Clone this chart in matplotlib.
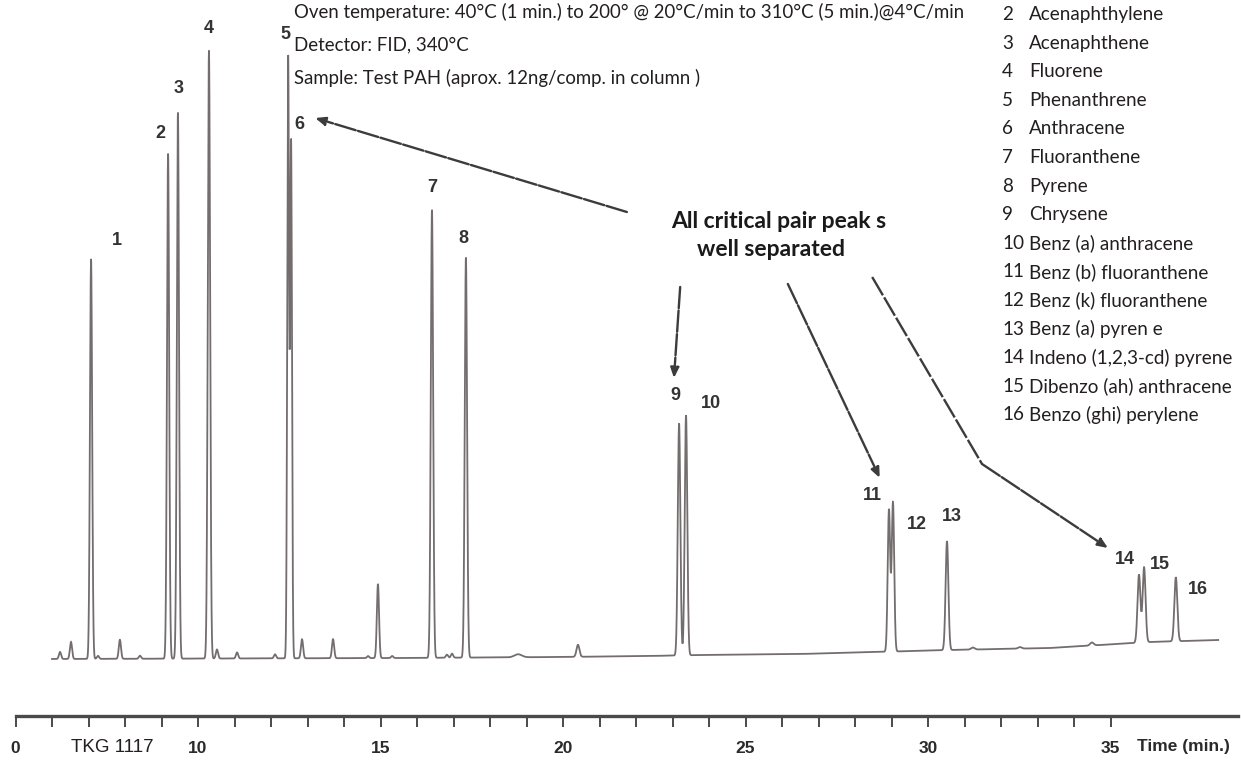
import numpy as np
import matplotlib
matplotlib.use("Agg")
import matplotlib.pyplot as plt

# ---------------- data ----------------
# Numbered PAH peaks: retention time (min), height above baseline, peak width (min)
peak_ids = list(range(1, 17))
peak_times = [7.07, 9.18, 9.45, 10.30, 12.47, 12.55, 16.41, 17.34,
              23.18, 23.37, 28.93, 29.04, 30.52, 35.78, 35.92, 36.79]
peak_heights = [400, 505, 546, 608, 600, 516, 448, 400,
                232, 240, 142, 149, 109, 68, 75, 64]
peak_widths = [0.030, 0.030, 0.030, 0.032, 0.025, 0.025, 0.032, 0.032,
               0.035, 0.035, 0.034, 0.034, 0.038, 0.040, 0.040, 0.040]

# Small unlabelled peaks
minor_times = [6.22, 6.52, 7.26, 7.86, 8.41, 10.52, 11.07, 12.11, 12.85, 13.70,
               14.66, 14.93, 15.32, 16.82, 16.96, 18.77, 20.41, 31.23, 32.52, 34.49]
minor_heights = [7, 17, 3, 19, 3, 9, 6, 4, 19, 19,
                 2, 74, 2, 3, 4, 3, 12, 2, 1.5, 3]
minor_widths = [0.03, 0.03, 0.03, 0.03, 0.03, 0.03, 0.03, 0.03, 0.03, 0.03,
                0.03, 0.03, 0.03, 0.03, 0.03, 0.10, 0.04, 0.05, 0.05, 0.05]

# Baseline drift (min, signal)
drift_times = [6.0, 15.53, 19.92, 22.38, 23.75, 26.49, 30.60, 33.34, 34.71, 36.08, 37.95]
drift_levels = [0, 1, 2, 3, 4, 5, 9, 11, 14, 17, 19]

run_start, run_end = 6.0, 37.95

# Time axis ticks (first tick printed as "0")
tick_minutes = list(range(5, 36))
tick_labels = {5: "0", 10: "10", 15: "15", 20: "20", 25: "25", 30: "30", 35: "35"}

compound_names = [
    "Acenaphthylene", "Acenaphthene", "Fluorene", "Phenanthrene", "Anthracene",
    "Fluoranthene", "Pyrene", "Chrysene", "Benz (a) anthracene",
    "Benz (b) fluoranthene", "Benz (k) fluoranthene", "Benz (a) pyren e",
    "Indeno (1,2,3-cd) pyrene", "Dibenzo (ah) anthracene", "Benzo (ghi) perylene",
]
compound_ids = list(range(2, 17))

conditions = [
    "Oven temperature: 40\u00b0C (1 min.) to 200\u00b0 @ 20\u00b0C/min to 310\u00b0C (5 min.)@4\u00b0C/min",
    "Detector: FID, 340\u00b0C",
    "Sample: Test PAH (aprox. 12ng/comp. in column )",
]

# ---------------- signal ----------------
t = np.arange(run_start, run_end, 0.001)
signal = np.interp(t, drift_times, drift_levels).astype(float)
for tr, h, w in zip(peak_times + minor_times, peak_heights + minor_heights,
                    peak_widths + minor_widths):
    signal += h * np.exp(-0.5 * ((t - tr) / w) ** 2)

# ---------------- figure ----------------
W, H, DPI = 1241, 761, 100
fig = plt.figure(figsize=(W / DPI, H / DPI), dpi=DPI)
ax = fig.add_axes([0, 0, 1, 1])
ax.set_xlim(4.5753, 38.575)
ax.set_ylim(-102, 659)

ax.plot(t, signal, color="#736d6e", lw=1.3, solid_joinstyle="miter")

# time axis drawn as a floating bottom spine
for s in ("left", "right", "top"):
    ax.spines[s].set_visible(False)
ax.spines["bottom"].set_position(("data", -57))
ax.spines["bottom"].set_bounds(5, 38.49)
ax.spines["bottom"].set_linewidth(2.4)
ax.spines["bottom"].set_color("#4a4a4a")
ax.set_yticks([])
ax.set_xticks(tick_minutes)
ax.set_xticklabels([tick_labels.get(m, "") for m in tick_minutes])
ax.tick_params(axis="x", direction="out", length=8, width=1.4, color="#4a4a4a",
               pad=10, labelsize=12.5, labelcolor="#2a2a2a")
for lab in ax.get_xticklabels():
    lab.set_fontfamily("Liberation Sans")
    lab.set_fontweight("bold")

ax.text(35.73, -88, "Time (min.)", fontfamily="Liberation Sans", fontweight="bold",
        fontsize=12.5, color="#2a2a2a", ha="left", va="center")
ax.text(6.52, -89, "TKG 1117", fontfamily="Liberation Sans", fontsize=13.5,
        color="#231f20", ha="left", va="center")

# peak numbers
label_offsets = [(26, 18), (-8, 20), (1, 24), (0, 22), (-3, 24), (8, 18), (0, 22), (-3, 19),
                 (-4, 28), (25, 12), (-17, 14), (24, -22), (5, 25), (-14, 15), (16, 3), (22, -12)]
base_at_peak = np.interp(peak_times, drift_times, drift_levels)
for pid, tr, h, b, (dx, dy) in zip(peak_ids, peak_times, peak_heights, base_at_peak, label_offsets):
    ax.annotate(str(pid), xy=(tr, h + b), xytext=(dx, dy), textcoords="offset pixels",
                ha="center", va="center", fontfamily="Liberation Sans",
                fontweight="bold", fontsize=13, color="#333333")

# run conditions
for i, line in enumerate(conditions):
    fig.text(294 / W, 1 - (12 + 33 * i) / H, line, fontfamily="Lato", fontsize=13.4,
             color="#231f20", ha="left", va="center")

# compound list
for i, (cid, name) in enumerate(zip(compound_ids, compound_names)):
    y = 1 - (14.5 + 28.6 * i) / H
    fig.text(1002 / W, y, str(cid), fontfamily="Lato", fontsize=13.6,
             color="#231f20", ha="left", va="center")
    fig.text(1029 / W, y, name, fontfamily="Lato", fontsize=13.6,
             color="#231f20", ha="left", va="center")

# callout
fig.text(671 / W, 1 - 221 / H, "All critical pair peak s", fontfamily="Lato",
         fontweight="bold", fontsize=16.5, color="#1a1a1a", ha="left", va="center")
fig.text(697 / W, 1 - 250 / H, "well separated", fontfamily="Lato",
         fontweight="bold", fontsize=16.5, color="#1a1a1a", ha="left", va="center")

arrow_kw = dict(arrowstyle="-|>,head_length=0.6,head_width=0.25", color="#3c3c3c",
                lw=1.7, linestyle=(0, (9, 1)), shrinkA=0, shrinkB=0)
ax.annotate("", xy=(13.21, 541), xytext=(21.75, 447), arrowprops=arrow_kw)
ax.annotate("", xy=(23.04, 281), xytext=(23.21, 372), arrowprops=arrow_kw)
ax.annotate("", xy=(28.68, 181), xytext=(26.16, 375), arrowprops=arrow_kw)
ax.plot([28.47, 31.48], [382, 195], color="#3c3c3c", lw=1.7, linestyle=(0, (9, 1)))
ax.annotate("", xy=(34.93, 111), xytext=(31.48, 195), arrowprops=arrow_kw)

fig.savefig("out.png", dpi=DPI)
